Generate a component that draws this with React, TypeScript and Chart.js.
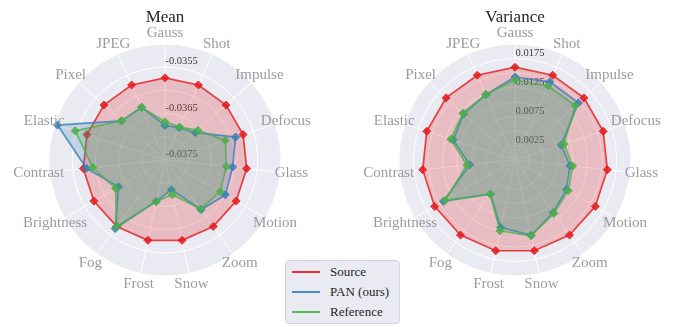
import React, { useEffect, useRef } from 'react';
import { Chart, registerables } from 'chart.js';

Chart.register(...registerables);

const categories = ['Gauss', 'Shot', 'Impulse', 'Defocus', 'Glass', 'Motion', 'Zoom', 'Snow', 'Frost', 'Fog', 'Brightness', 'Contrast', 'Elastic', 'Pixel', 'JPEG'];
const seriesNames = ['Source', 'PAN (ours)', 'Reference'];
const seriesColors = ['228,26,28', '55,126,184', '77,175,74'];

const meanSource = [-0.03573, -0.03573, -0.03573, -0.03573, -0.03573, -0.03573, -0.03573, -0.03573, -0.03573, -0.03573, -0.03573, -0.03573, -0.03573, -0.03573, -0.03573];
const meanPAN = [-0.036757, -0.036741, -0.036621, -0.035901, -0.036035, -0.035998, -0.036175, -0.036847, -0.036588, -0.035672, -0.036343, -0.035797, -0.035065, -0.036241, -0.036259];
const meanRef = [-0.036677, -0.036724, -0.036545, -0.036132, -0.036172, -0.036127, -0.036196, -0.036735, -0.036584, -0.035726, -0.036272, -0.035935, -0.035466, -0.036237, -0.036254];

const varSource = [0.016, 0.016, 0.016, 0.016, 0.016, 0.016, 0.016, 0.016, 0.016, 0.016, 0.016, 0.016, 0.016, 0.016, 0.016];
const varPAN = [0.01431, 0.01474, 0.01471, 0.00838, 0.00955, 0.01021, 0.01121, 0.01328, 0.01188, 0.00724, 0.01426, 0.00784, 0.01121, 0.0119, 0.01233];
const varRef = [0.01379, 0.01397, 0.01402, 0.0089, 0.01, 0.01059, 0.01138, 0.01335, 0.01248, 0.00728, 0.0139, 0.00836, 0.01164, 0.01207, 0.01236];

const meanTicks = [-0.0375, -0.037, -0.0365, -0.036, -0.0355, -0.035];
const meanTickLabels = ['-0.0375', '', '-0.0365', '', '-0.0355', ''];
const varTicks = [0, 0.0025, 0.005, 0.0075, 0.01, 0.0125, 0.015, 0.0175, 0.02];
const varTickLabels = ['', '0.0025', '', '0.0075', '', '0.0125', '', '0.0175', ''];

const FONT = '"Liberation Serif", "DejaVu Serif", serif';

const textPlugin = {
  id: 'radarText',
  beforeDatasetsDraw(chart: any, _a: any, opts: any) {
    const s = chart.scales.r;
    const ctx = chart.ctx;
    ctx.save();
    ctx.font = `10.5px ${FONT}`;
    ctx.fillStyle = '#3c3c3c';
    ctx.textAlign = 'left';
    ctx.textBaseline = 'middle';
    opts.ticks.forEach((v: number, i: number) => {
      const lbl = opts.labels[i];
      if (!lbl) return;
      const d = s.getDistanceFromCenterForValue(v);
      ctx.fillText(lbl, s.xCenter + 0.5, s.yCenter - d - 5.5);
    });
    ctx.restore();
  },
  afterDraw(chart: any, _a: any, opts: any) {
    const s = chart.scales.r;
    const ctx = chart.ctx;
    ctx.save();
    ctx.font = `17px ${FONT}`;
    ctx.fillStyle = '#262626';
    ctx.textAlign = 'center';
    ctx.textBaseline = 'alphabetic';
    ctx.fillText(opts.title, s.xCenter, 22);
    ctx.font = `15px ${FONT}`;
    ctx.fillStyle = '#9c9c9c';
    ctx.textBaseline = 'middle';
    categories.forEach((c, i) => {
      const p = s.getPointPosition(i, s.drawingArea + 11);
      ctx.fillText(c, p.x, p.y);
    });
    ctx.restore();
  },
};

function makeDataset(label: string, data: number[], color: string, order: number) {
  return {
    label,
    data,
    order,
    fill: 'start',
    backgroundColor: `rgba(${color},0.22)`,
    borderColor: `rgba(${color},0.8)`,
    borderWidth: 1.7,
    pointStyle: 'rectRot',
    pointRadius: 4,
    pointBorderWidth: 1,
    pointBackgroundColor: `rgba(${color},0.85)`,
    pointBorderColor: `rgba(${color},0.85)`,
    tension: 0,
  };
}

function RadarPanel(props: { title: string; series: number[][]; min: number; max: number; ticks: number[]; labels: string[]; left: number }) {
  const ref = useRef<HTMLCanvasElement | null>(null);
  useEffect(() => {
    if (!ref.current) return;
    const { series, min, max, ticks, labels, title, left } = props;
    const size = 232;
    const chart = new Chart(ref.current, {
      type: 'radar',
      data: {
        labels: categories,
        datasets: [
          makeDataset(seriesNames[0], series[0], seriesColors[0], 3),
          makeDataset(seriesNames[1], series[1], seriesColors[1], 2),
          makeDataset(seriesNames[2], series[2], seriesColors[2], 1),
        ] as any,
      },
      options: {
        responsive: false,
        animation: false,
        layout: { padding: { left, top: 44, right: 673 - left - size, bottom: 327 - 44 - size } },
        plugins: {
          legend: { display: false },
          title: { display: false },
          tooltip: { enabled: false },
          radarText: { title, ticks, labels },
        } as any,
        scales: {
          r: {
            min,
            max,
            backgroundColor: '#EAEAF2',
            afterBuildTicks: (scale: any) => {
              scale.ticks = ticks.map((v) => ({ value: v }));
            },
            ticks: { display: false },
            pointLabels: { display: false },
            grid: { circular: true, color: '#ffffff', lineWidth: 1 },
            angleLines: { display: true, color: '#ffffff', lineWidth: 1 },
          } as any,
        },
      },
      plugins: [textPlugin as any],
    });
    return () => chart.destroy();
  }, []);
  return (
    <canvas
      ref={ref}
      width={673}
      height={327}
      style={{ position: 'absolute', left: 0, top: 0, width: 673, height: 327 }}
    />
  );
}

export default function App() {
  return (
    <div style={{ position: 'fixed', left: 0, top: 0, width: 673, height: 327, background: '#ffffff', overflow: 'hidden' }}>
      <RadarPanel title="Mean" series={[meanSource, meanPAN, meanRef]} min={-0.0375} max={-0.035} ticks={meanTicks} labels={meanTickLabels} left={49} />
      <RadarPanel title="Variance" series={[varSource, varPAN, varRef]} min={0} max={0.02} ticks={varTicks} labels={varTickLabels} left={399} />
      <div
        style={{
          position: 'absolute',
          left: 285,
          top: 260,
          width: 113,
          height: 62,
          background: '#EAEAF2',
          border: '1px solid #d2d2da',
          borderRadius: 4,
          fontFamily: FONT,
          fontSize: 13,
          color: '#262626',
        }}
      >
        {seriesNames.map((n, i) => (
          <div key={n} style={{ position: 'absolute', left: 0, top: 1 + i * 20, height: 20, width: 113 }}>
            <div style={{ position: 'absolute', left: 6, top: 9, width: 28, height: 2, background: `rgba(${seriesColors[i]},0.9)` }} />
            <div style={{ position: 'absolute', left: 44, top: 0, lineHeight: '20px', whiteSpace: 'nowrap' }}>{n}</div>
          </div>
        ))}
      </div>
    </div>
  );
}
